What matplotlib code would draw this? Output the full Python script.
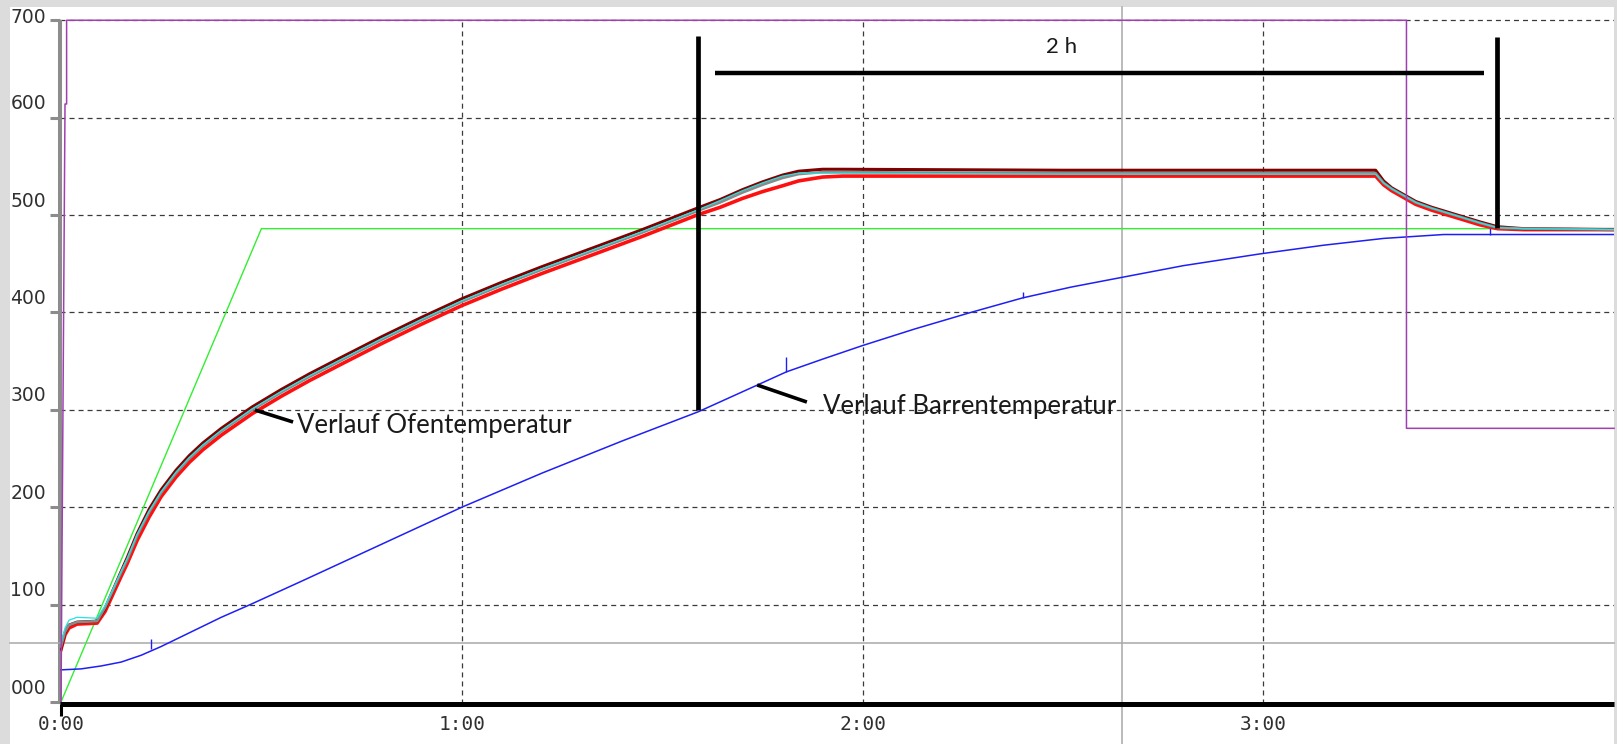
import matplotlib.pyplot as plt
from matplotlib.patches import Rectangle

plt.rcParams['lines.scale_dashes'] = False

# Daten (Zeit in Stunden, Temperatur in °C)
ofen_t = [0.0, 0.01, 0.02, 0.04, 0.09, 0.11, 0.13, 0.15, 0.165, 0.19, 0.22, 0.25,
          0.287, 0.32, 0.354, 0.40, 0.477, 0.55, 0.62, 0.70, 0.80, 0.90, 1.0, 1.1,
          1.20, 1.345, 1.45, 1.587, 1.645, 1.70, 1.75, 1.80, 1.84, 1.90, 1.95, 2.5,
          3.0, 3.28, 3.30, 3.32, 3.35, 3.38, 3.42, 3.46, 3.50, 3.54, 3.584, 3.65, 3.875]
ofen_grau = [57, 72, 79, 82, 83, 97, 115, 133, 146, 171, 195, 215, 235, 250, 263, 278,
             300, 318, 334, 351, 372, 392, 411, 428, 444, 466, 482, 504, 513, 523, 531,
             538, 542, 544, 544, 543, 543, 543, 533, 527, 520, 513, 507, 502, 497,
             492, 487, 486, 485]
ofen_rot = [54, 69, 76, 80, 81, 93, 111, 129, 142, 166, 190, 211, 231, 246, 259, 274,
            296, 314, 330, 347, 368, 388, 407, 424, 440, 462, 478, 500, 508, 517, 524,
            530, 535, 539, 540, 540, 540, 540, 531, 525, 518, 511, 505, 500, 495,
            490, 486, 485, 485]
ofen_dunkelrot = [55, 71, 79, 82, 83, 96, 115, 134, 148, 173, 198, 218, 238, 253, 266,
                  281, 303, 321, 337, 354, 375, 395, 414, 431, 447, 469, 485, 507, 516,
                  526, 534, 541, 545, 547, 547, 546, 546, 546, 535, 528, 521, 514, 508,
                  503, 498, 493, 488, 486, 485]
ofen_cyan = [60, 76, 84, 87, 86, 99, 116, 134, 147, 172, 196, 216, 236, 251, 264, 279,
             301, 319, 335, 352, 373, 393, 412, 429, 445, 467, 483, 505, 515, 525, 533,
             540, 543, 543, 543, 542, 542, 542, 533, 527, 520, 513, 507, 502, 497,
             492, 487, 486, 485]

barren_t = [0.0, 0.05, 0.10, 0.15, 0.20, 0.25, 0.30, 0.35, 0.40, 0.472, 0.60, 0.80,
            1.0, 1.2, 1.4, 1.59, 1.735, 1.81, 1.90, 2.0, 2.13, 2.27, 2.40, 2.52,
            2.647, 2.80, 2.99, 3.15, 3.30, 3.45, 3.875]
barren_v = [33, 34, 37, 41, 48, 57, 67, 77, 87, 100, 124, 162, 200, 235, 268, 298,
            325, 339, 352, 366, 383, 400, 415, 426, 436, 448, 460, 469, 476, 480, 480]
spitzen_t = [0.225, 1.81, 2.40, 3.565]
spitzen_von = [54, 339, 415, 480]
spitzen_bis = [65, 354, 421, 487]

soll_t = [0.0, 0.5, 3.875]
soll_v = [0, 486, 486]

stell_t = [0.0, 0.010, 0.014, 0.014, 3.357, 3.357, 3.875]
stell_v = [0, 614, 614, 700, 700, 281, 281]

y_ticks = [0, 100, 200, 300, 400, 500, 600, 700]
y_labels = ['000', '100', '200', '300', '400', '500', '600', '700']
x_ticks = [0, 1, 2, 3]
x_labels = ['0:00', '1:00', '2:00', '3:00']

cursor_t = 2.647
cursor_v = 60.6

W, H = 1617, 744
fig = plt.figure(figsize=(W / 100, H / 100), dpi=100)
fig.patch.set_facecolor('#DCDCDC')
fig.add_artist(Rectangle((10 / W, 0), (1614 - 10) / W, (H - 7) / H,
                         transform=fig.transFigure, facecolor='white',
                         edgecolor='none', zorder=0))

ax = fig.add_axes([60 / W, 40 / H, (1614 - 60) / W, (704 - 7) / H])
ax.set_facecolor('none')
x0, x1 = -0.0025, 3.8748
ax.set_xlim(x0, x1)
ax.set_ylim(-2.05, 713.6)
ax.axis('off')

grid_kw = dict(colors='#3a3a3a', linestyles=(0, (3.6, 2.9)), lw=0.9, zorder=1)
ax.hlines(y_ticks[1:], x0, x1, **grid_kw)
ax.vlines(x_ticks[1:], -2, 700, **grid_kw)

# linke Achse (grau) mit Strichen
ax.plot([x0, x0], [-2, 700], color='#8c8c8c', lw=2.9, zorder=2, clip_on=False,
        solid_capstyle='butt')
ax.hlines(y_ticks, -0.0275, x0, colors='#8c8c8c', lw=2.2, zorder=2, clip_on=False)
for v, lab in zip(y_ticks, y_labels):
    dy = 14 if v < 700 else 2.5
    ax.annotate(lab, (0, v), xytext=(-15, dy), textcoords='offset pixels',
                ha='right', va='center', fontsize=13.5, color='#303030',
                family='DejaVu Sans', annotation_clip=False)

# untere Achse (schwarz)
ax.plot([x0, x1], [-2.05, -2.05], color='black', lw=3.6, zorder=6, clip_on=False,
        solid_capstyle='butt')
ax.plot([0, 0], [-2, -14.5], color='black', lw=2.2, zorder=6, clip_on=False,
        solid_capstyle='butt')
for t, lab in zip(x_ticks, x_labels):
    ax.text(t, -23.6, lab, ha='center', va='center', fontsize=14,
            color='#303030', family='DejaVu Sans Mono')

# Fadenkreuz
ax.plot([cursor_t, cursor_t], [-45, 714], color='#a8a8a8', lw=1.1, zorder=3,
        clip_on=False)
ax.plot([-0.127, x1], [cursor_v, cursor_v], color='#a8a8a8', lw=1.1, zorder=3,
        clip_on=False)

# Kurven
ax.plot(soll_t, soll_v, color='#33ee33', lw=1.0, zorder=4)
ax.plot(barren_t, barren_v, color='#1f1ff5', lw=1.1, zorder=4)
ax.vlines(spitzen_t, spitzen_von, spitzen_bis, colors='#1f1ff5', lw=1.0, zorder=4)
ax.plot(ofen_t, ofen_rot, color='#ff1010', lw=2.6, zorder=4)
ax.plot(ofen_t, ofen_dunkelrot, color='#800000', lw=2.2, zorder=4)
ax.plot(ofen_t, ofen_grau, color='#8a8a8a', lw=1.9, zorder=4)
ax.plot(ofen_t, ofen_cyan, color='#22e5e5', lw=0.9, zorder=4)
ax.plot(stell_t, stell_v, color='#a040b0', lw=1.1, zorder=5, clip_on=False)

# Beschriftungen
schwarz = dict(color='black', solid_capstyle='butt', zorder=7)
ax.plot([1.589, 1.589], [300, 684], lw=3.4, **schwarz)
ax.plot([3.584, 3.584], [487, 683], lw=3.4, **schwarz)
ax.plot([1.632, 3.55], [646, 646], lw=3.2, **schwarz)
ax.text(2.497, 673, '2 h', ha='center', va='center', fontsize=16,
        family='Lato', color='#1a1a1a', zorder=7)

ax.plot([0.484, 0.579], [299.8, 287.5], lw=2.6, **schwarz)
ax.text(0.589, 284.4, 'Verlauf Ofentemperatur', ha='left', va='center',
        fontsize=18.5, family='Lato', color='#1a1a1a', zorder=7)
ax.plot([1.737, 1.861], [325.5, 308], lw=2.6, **schwarz)
ax.text(1.901, 302.9, 'Verlauf Barrentemperatur', ha='left', va='center',
        fontsize=18.5, family='Lato', color='#1a1a1a', zorder=7)

fig.savefig('out.png', dpi=100, facecolor=fig.get_facecolor())
